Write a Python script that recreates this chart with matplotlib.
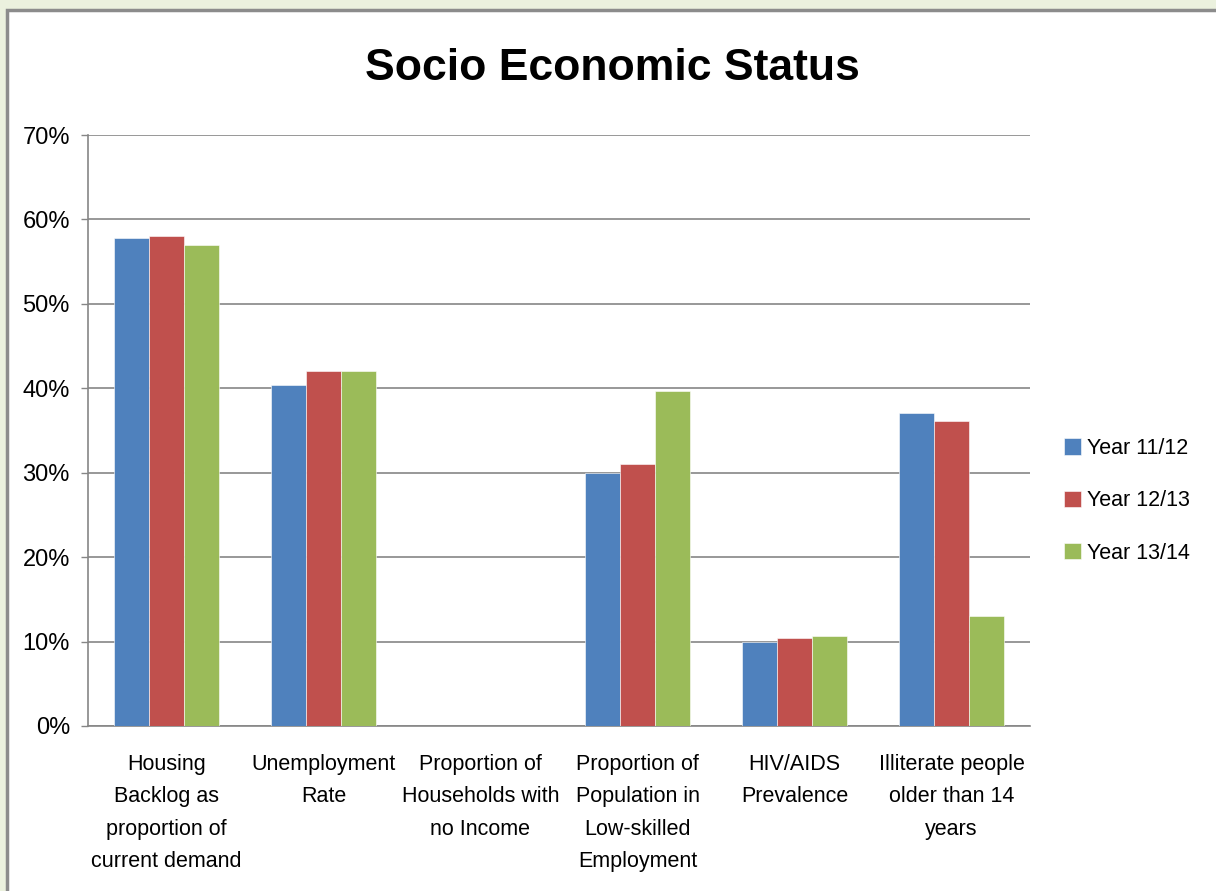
import numpy as np
import matplotlib
matplotlib.use("Agg")
from matplotlib import pyplot as plt
from matplotlib.patches import Rectangle

# Data (fractions of 1)
categories = [
    "Housing\nBacklog as\nproportion of\ncurrent demand",
    "Unemployment\nRate",
    "Proportion of\nHouseholds with\nno Income",
    "Proportion of\nPopulation in\nLow-skilled\nEmployment",
    "HIV/AIDS\nPrevalence",
    "Illiterate people\nolder than 14\nyears",
]
series_names = ["Year 11/12", "Year 12/13", "Year 13/14"]
year_11_12 = [0.578, 0.404, 0.0, 0.300, 0.100, 0.371]
year_12_13 = [0.580, 0.420, 0.0, 0.310, 0.104, 0.361]
year_13_14 = [0.570, 0.420, 0.0, 0.397, 0.107, 0.130]
y_ticks = [0.0, 0.1, 0.2, 0.3, 0.4, 0.5, 0.6, 0.7]

colors = ["#4F81BD", "#C0504D", "#9BBB59"]
plt.rcParams["font.family"] = ["Liberation Sans Narrow", "Liberation Sans", "DejaVu Sans"]

fig = plt.figure(figsize=(12.16, 8.91), dpi=100)
fig.patch.set_facecolor("#EBF1DE")

# White chart frame with grey border (runs off the right and bottom edges)
frame = Rectangle((7 / 1216, -0.05), 1.2, (891 - 10) / 891 + 0.05,
                  transform=fig.transFigure, facecolor="white",
                  edgecolor="#8C8C8C", linewidth=2.5, zorder=-10)
fig.patches.append(frame)

ax = fig.add_axes([88 / 1216, (891 - 726) / 891, (1030 - 88) / 1216, (726 - 135) / 891])
ax.set_facecolor("none")

x = np.arange(len(categories))
width = 1 / 4.5
for i, (vals, name) in enumerate(zip([year_11_12, year_12_13, year_13_14], series_names)):
    ax.bar(x + (i - 1) * width, vals, width, color=colors[i], label=name,
           edgecolor="white", linewidth=0.4, zorder=3)

ax.set_xlim(-0.5, len(categories) - 0.5)
ax.set_ylim(0, 0.7)
ax.set_yticks(y_ticks)
ax.set_yticklabels(["%d%%" % round(t * 100) for t in y_ticks], fontsize=17)
ax.set_xticks(x)
ax.set_xticklabels(categories, fontsize=15.5, va="top", linespacing=1.72)
ax.tick_params(axis="x", length=0, pad=20)
ax.tick_params(axis="y", length=5, color="#868686", pad=8, width=1)

ax.yaxis.grid(True, color="#868686", linewidth=1.2, zorder=0)
ax.set_axisbelow(True)
for side in ["top", "right"]:
    ax.spines[side].set_visible(False)
for side in ["left", "bottom"]:
    ax.spines[side].set_color("#868686")
    ax.spines[side].set_linewidth(1.2)

fig.text(612 / 1216, 1 - 68 / 891, "Socio Economic Status", fontsize=32,
         fontweight="bold", ha="center", va="center")

ax.legend(loc="center left", bbox_to_anchor=(1.015, 0.381), frameon=False,
          fontsize=15.5, handlelength=0.8, handleheight=0.8,
          handletextpad=0.3, labelspacing=1.45)

fig.savefig("out.png", dpi=100, facecolor=fig.get_facecolor())
